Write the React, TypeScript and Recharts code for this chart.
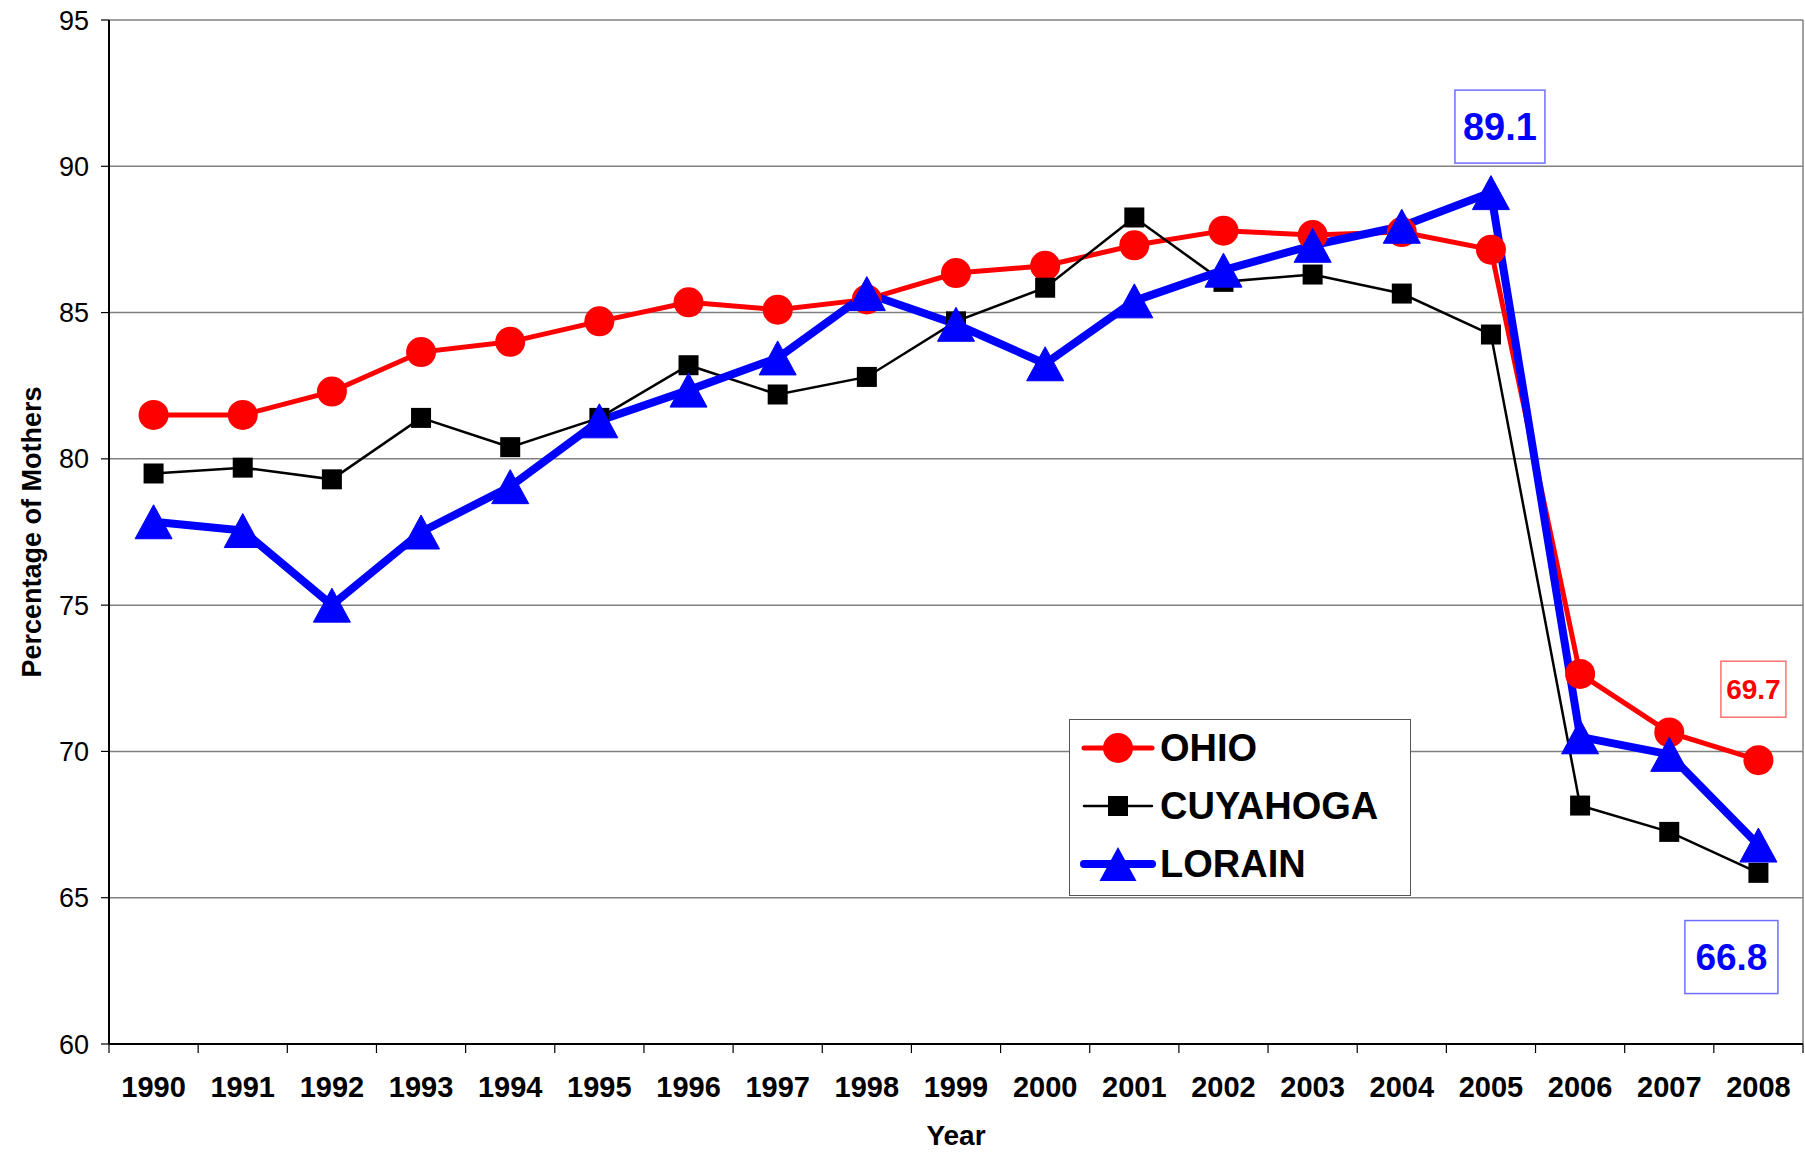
import React from "react";
import {
  LineChart,
  Line,
  XAxis,
  YAxis,
  CartesianGrid,
  Legend,
  LabelList,
} from "recharts";

const years = [
  "1990", "1991", "1992", "1993", "1994", "1995", "1996", "1997", "1998", "1999",
  "2000", "2001", "2002", "2003", "2004", "2005", "2006", "2007", "2008",
];
const ohio = [
  81.5, 81.5, 82.3, 83.65, 84.0, 84.7, 85.35, 85.1, 85.45, 86.35,
  86.6, 87.3, 87.8, 87.65, 87.75, 87.15, 72.65, 70.65, 69.7,
];
const cuyahoga = [
  79.5, 79.7, 79.3, 81.4, 80.4, 81.4, 83.2, 82.2, 82.8, 84.7,
  85.85, 88.25, 86.05, 86.3, 85.65, 84.25, 68.15, 67.25, 65.85,
];
const lorain = [
  77.85, 77.55, 75.0, 77.5, 79.05, 81.3, 82.35, 83.45, 85.65, 84.6,
  83.25, 85.4, 86.45, 87.3, 87.95, 89.1, 70.5, 69.9, 66.8,
];
const yTicks = [60, 65, 70, 75, 80, 85, 90, 95];

const data = years.map((year, i) => ({
  year,
  ohio: ohio[i],
  cuyahoga: cuyahoga[i],
  lorain: lorain[i],
}));

const W = 1805;
const H = 1153;
const margin = { top: 20, right: 2, left: 8, bottom: 0 };
const yAxisW = 101;
const xAxisH = 109;
const step = (W - margin.left - margin.right - yAxisW) / years.length;

const RED = "#ff0000";
const BLUE = "#0000ff";
const BLACK = "#000000";

const circleDot = (p: any) => (
  <circle key={`c-${p.index}`} cx={p.cx} cy={p.cy} r={15} fill={RED} />
);
const squareDot = (p: any) => (
  <rect key={`s-${p.index}`} x={p.cx - 10} y={p.cy - 10} width={20} height={20} fill={BLACK} />
);
const triPoints = (cx: number, cy: number) =>
  `${cx},${cy - 17} ${cx - 18.5},${cy + 17} ${cx + 18.5},${cy + 17}`;
const triangleDot = (p: any) => (
  <polygon key={`t-${p.index}`} points={triPoints(p.cx, p.cy)} fill={BLUE} strokeLinejoin="round" stroke={BLUE} strokeWidth={1} />
);

function YearTick(props: any) {
  const { x, y, payload, index } = props;
  const half = step / 2;
  return (
    <g>
      <line x1={x - half} x2={x - half} y1={y} y2={y + 9} stroke={BLACK} strokeWidth={1.2} />
      {index === years.length - 1 && (
        <line x1={x + half} x2={x + half} y1={y} y2={y + 9} stroke={BLACK} strokeWidth={1.2} />
      )}
      <text x={x} y={y + 53} textAnchor="middle" fontSize={29} fontWeight="bold" fill={BLACK}>
        {payload.value}
      </text>
    </g>
  );
}

// boxed value callout attached to one point of a series
const callout =
  (idx: number, color: string, border: string, fontSize: number, w: number, h: number, dx: number, dy: number) =>
  (props: any) => {
    if (props.index !== idx) return null;
    const vb = props.viewBox || {};
    const px = (vb.x ?? props.x) + (vb.width ?? 0) / 2;
    const py = (vb.y ?? props.y) + (vb.height ?? 0) / 2;
    const cx = px + dx;
    const cy = py + dy;
    return (
      <g key={`callout-${idx}`}>
        <rect x={cx - w / 2} y={cy - h / 2} width={w} height={h} fill="#fff" stroke={border} strokeWidth={1.5} />
        <text
          x={cx}
          y={cy}
          textAnchor="middle"
          dominantBaseline="central"
          fontSize={fontSize}
          fontWeight="bold"
          fill={color}
        >
          {props.value}
        </text>
      </g>
    );
  };

const legendItems = [
  { name: "OHIO", color: RED, width: 5, marker: "circle" },
  { name: "CUYAHOGA", color: BLACK, width: 2.5, marker: "square" },
  { name: "LORAIN", color: BLUE, width: 8, marker: "triangle" },
];

function LegendBox() {
  return (
    <div
      style={{
        width: 342,
        height: 177,
        border: "1.5px solid #555",
        background: "#fff",
        boxSizing: "border-box",
        position: "relative",
      }}
    >
      {legendItems.map((it, i) => (
        <div
          key={it.name}
          style={{
            position: "absolute",
            left: 10,
            top: 8 + i * 58,
            height: 40,
            display: "flex",
            alignItems: "center",
          }}
        >
          <svg width={76} height={40}>
            <line x1={4} x2={72} y1={20} y2={20} stroke={it.color} strokeWidth={it.width} strokeLinecap="round" />
            {it.marker === "circle" && <circle cx={38} cy={20} r={15} fill={it.color} />}
            {it.marker === "square" && <rect x={28} y={10} width={20} height={20} fill={it.color} />}
            {it.marker === "triangle" && <polygon points={triPoints(38, 20)} fill={it.color} />}
          </svg>
          <span style={{ marginLeft: 4, fontSize: 38, fontWeight: "bold", color: BLACK, lineHeight: "40px" }}>
            {it.name}
          </span>
        </div>
      ))}
    </div>
  );
}

export default function App() {
  return (
    <div
      style={{
        position: "absolute",
        left: 0,
        top: 0,
        width: W,
        height: H,
        fontFamily: "'Liberation Sans', Arial, sans-serif",
        background: "#fff",
      }}
    >
      <LineChart width={W} height={H} data={data} margin={margin}>
        <CartesianGrid
          stroke="#808080"
          strokeWidth={1.5}
          horizontal
          vertical
          verticalCoordinatesGenerator={({ offset }: any) => [offset.left + offset.width]}
        />
        <XAxis
          dataKey="year"
          interval={0}
          height={xAxisH}
          padding={{ left: step / 2, right: step / 2 }}
          tickSize={0}
          tickMargin={0}
          tickLine={false}
          axisLine={{ stroke: BLACK, strokeWidth: 2 }}
          tick={<YearTick />}
          label={(p: any) => {
            const vb = p.viewBox;
            return (
              <text x={vb.x + vb.width / 2} y={vb.y + 91} textAnchor="middle" dominantBaseline="central" fontSize={28} fontWeight="bold" fill={BLACK}>
                Year
              </text>
            );
          }}
        />
        <YAxis
          type="number"
          domain={[60, 95]}
          ticks={yTicks}
          interval={0}
          width={yAxisW}
          tickSize={8}
          tickMargin={12}
          tickLine={{ stroke: BLACK, strokeWidth: 1.2 }}
          axisLine={{ stroke: BLACK, strokeWidth: 2 }}
          tick={{ fontSize: 27, fill: BLACK }}
          label={(p: any) => {
            const vb = p.viewBox;
            const cx = vb.x + 24;
            const cy = vb.y + vb.height / 2;
            return (
              <text x={cx} y={cy} transform={`rotate(-90 ${cx} ${cy})`} textAnchor="middle" dominantBaseline="central" fontSize={27} fontWeight="bold" fill={BLACK}>
                Percentage of Mothers
              </text>
            );
          }}
        />
        <Legend
          layout="vertical"
          align="center"
          verticalAlign="middle"
          content={() => <LegendBox />}
          wrapperStyle={{ left: 1069, top: 719, width: 342, height: 177 }}
        />
        <Line
          dataKey="ohio"
          name="OHIO"
          stroke={RED}
          strokeWidth={5}
          dot={circleDot}
          activeDot={false}
          isAnimationActive={false}
        >
          <LabelList dataKey="ohio" content={callout(18, RED, "#ff7070", 28, 65, 56, -5, -71)} />
        </Line>
        <Line
          dataKey="cuyahoga"
          name="CUYAHOGA"
          stroke={BLACK}
          strokeWidth={2.5}
          dot={squareDot}
          activeDot={false}
          isAnimationActive={false}
        />
        <Line
          dataKey="lorain"
          name="LORAIN"
          stroke={BLUE}
          strokeWidth={8}
          strokeLinejoin="round"
          dot={triangleDot}
          activeDot={false}
          isAnimationActive={false}
        >
          <LabelList dataKey="lorain" content={callout(15, BLUE, "#6f6fff", 38, 90, 73, 9, -66)} />
          <LabelList dataKey="lorain" content={callout(18, BLUE, "#6f6fff", 37, 93, 73, -27, 112)} />
        </Line>
      </LineChart>
    </div>
  );
}
